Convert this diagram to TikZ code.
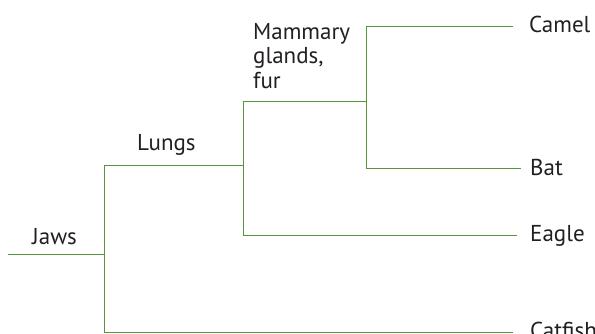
\documentclass[tikz,border=0pt]{standalone}
\usepackage{fontspec}
\setmainfont{PT Sans}
\definecolor{branch}{RGB}{88,148,60}
\definecolor{txt}{RGB}{35,31,32}
\begin{document}
\begin{tikzpicture}[x=1pt,y=-1pt,
  edge/.style={draw=branch, line width=1pt},
  lbl/.style={font=\fontsize{23}{24.5}\selectfont, text=txt, inner sep=0pt, anchor=base west}]
\useasboundingbox (0,0) rectangle (595,333);
% branch points
\coordinate (root) at (8,254);
\coordinate (j) at (104,254);
\coordinate (jt) at (104,165);
\coordinate (jb) at (104,332);
\coordinate (l) at (243,165);
\coordinate (lt) at (243,101);
\coordinate (lb) at (243,235);
\coordinate (m) at (366,101);
\coordinate (mt) at (366,26);
\coordinate (mb) at (366,168);
\coordinate (camelend) at (513,26);
\coordinate (batend) at (521,168);
\coordinate (eagleend) at (517,235);
\coordinate (catend) at (513,332);
% labels
\node[lbl] (jaws) at (32,244) {Jaws};
\node[lbl] (lungs) at (137,150) {Lungs};
\node[lbl, anchor=north west, align=left] (mam) at (253,23) {Mammary\\glands,\\fur};
\node[lbl] (camel) at (529,32) {Camel};
\node[lbl] (bat) at (530,175) {Bat};
\node[lbl] (eagle) at (530,241) {Eagle};
\node[lbl] (catfish) at (530,338) {Catfish};
% connectors
\draw[edge] (root) -- (j);
\draw[edge] (jt) -- (jb);
\draw[edge] (jt) -- (l);
\draw[edge] (jb) -- (catend);
\draw[edge] (lt) -- (lb);
\draw[edge] (lb) -- (eagleend);
\draw[edge] (lt) -- (m);
\draw[edge] (mt) -- (mb);
\draw[edge] (mt) -- (camelend);
\draw[edge] (mb) -- (batend);
\end{tikzpicture}
\end{document}
